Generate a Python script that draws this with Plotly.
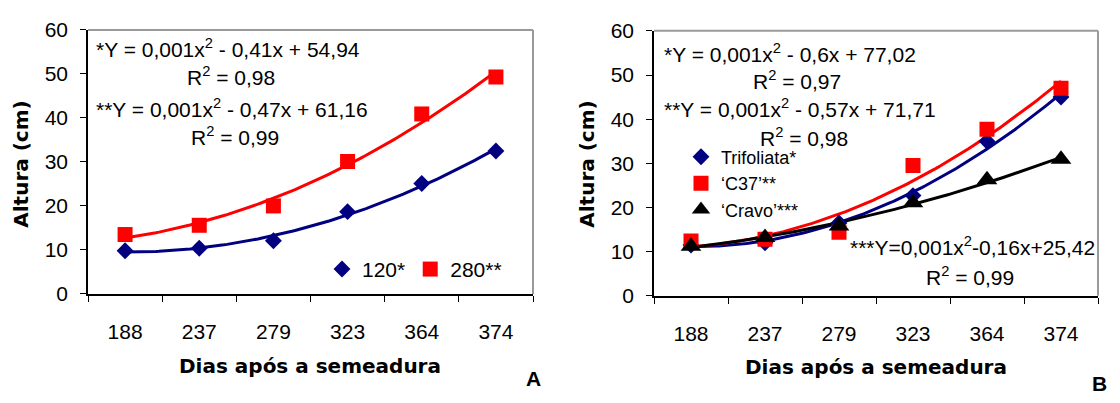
import numpy as np
import plotly.graph_objects as go

W, H = 1120, 403

days = ["188", "237", "279", "323", "364", "374"]

# Panel A
a_120 = [9.8, 10.4, 12.1, 18.7, 25.1, 32.5]
a_280 = [13.5, 15.6, 20.0, 30.1, 40.9, 49.3]

# Panel B
b_trifoliata = [11.5, 12.0, 16.5, 22.7, 35.0, 45.0]
b_c37 = [12.4, 12.8, 14.4, 29.5, 37.7, 47.0]
b_cravo = [11.2, 13.2, 15.8, 21.1, 26.3, 30.9]

y_ticks = [0, 10, 20, 30, 40, 50, 60]

NAVY = "#000080"
RED = "#FF0000"
BLACK = "#000000"
FONT = "Liberation Sans, Arial, sans-serif"
TITLE_FONT = "DejaVu Sans, Liberation Sans, Arial, sans-serif"

idx = np.arange(len(days))
dense = np.linspace(0, len(days) - 1, 121)


def trend(values):
    coef = np.polyfit(idx, values, 2)
    return np.polyval(coef, dense)


fig = go.Figure()

# ---- Panel A ----
for vals, col in [(a_120, NAVY), (a_280, RED)]:
    fig.add_trace(go.Scatter(x=dense, y=trend(vals), mode="lines",
                             line=dict(color=col, width=3), showlegend=False,
                             hoverinfo="skip", xaxis="x", yaxis="y"))
fig.add_trace(go.Scatter(x=idx, y=a_120, mode="markers", name="120*",
                         marker=dict(symbol="diamond", size=13, color=NAVY),
                         xaxis="x", yaxis="y", legend="legend"))
fig.add_trace(go.Scatter(x=idx, y=a_280, mode="markers", name="280**",
                         marker=dict(symbol="square", size=15, color=RED),
                         xaxis="x", yaxis="y", legend="legend"))

# ---- Panel B ----
for vals, col in [(b_trifoliata, NAVY), (b_c37, RED), (b_cravo, BLACK)]:
    fig.add_trace(go.Scatter(x=dense, y=trend(vals), mode="lines",
                             line=dict(color=col, width=3), showlegend=False,
                             hoverinfo="skip", xaxis="x2", yaxis="y2"))
fig.add_trace(go.Scatter(x=idx, y=b_trifoliata, mode="markers", name="Trifoliata*",
                         marker=dict(symbol="diamond", size=13, color=NAVY),
                         xaxis="x2", yaxis="y2", legend="legend2"))
fig.add_trace(go.Scatter(x=idx, y=b_c37, mode="markers", name="\u2018C37\u2019**",
                         marker=dict(symbol="square", size=15, color=RED),
                         xaxis="x2", yaxis="y2", legend="legend2"))
fig.add_trace(go.Scatter(x=idx, y=b_cravo, mode="markers", name="\u2018Cravo\u2019***",
                         marker=dict(symbol="triangle-up", size=18, color=BLACK),
                         xaxis="x2", yaxis="y2", legend="legend2"))


def xaxis_cfg(domain):
    return dict(domain=domain, range=[-0.5, len(days) - 0.5],
                tickmode="array", tickvals=list(idx), ticktext=days,
                ticks="outside", ticklen=6, tickcolor="rgba(0,0,0,0)",
                ticklabelstandoff=12,
                minor=dict(tickmode="array",
                           tickvals=list(np.arange(-0.5, len(days), 1.0)),
                           ticks="outside", ticklen=6, tickcolor=BLACK, tickwidth=1,
                           showgrid=False),
                showline=True, linecolor=BLACK, linewidth=1.5,
                showgrid=False, zeroline=False,
                tickfont=dict(family=FONT, size=21, color=BLACK), fixedrange=True)


def yaxis_cfg(domain, anchor):
    return dict(domain=domain, range=[0, 60], tickmode="array", tickvals=y_ticks,
                ticks="outside", ticklen=6, tickcolor=BLACK, tickwidth=1,
                ticklabelstandoff=8, anchor=anchor,
                showline=True, linecolor=BLACK, linewidth=1.5,
                showgrid=False, zeroline=False,
                tickfont=dict(family=FONT, size=21, color=BLACK), fixedrange=True)


def px_x(p):
    return p / W


def px_y(p):
    return 1 - p / H


ann = []


def txt(x, y, s, xanchor="left", size=21, bold=False, family=FONT, angle=0):
    ann.append(dict(x=px_x(x), y=px_y(y), xref="paper", yref="paper", text=s,
                    showarrow=False, xanchor=xanchor, yanchor="middle",
                    textangle=angle,
                    font=dict(family=family, size=size, color=BLACK,
                              weight="bold" if bold else "normal")))


# Panel A equations
txt(94, 38, "*Y = 0,001x<sup>2</sup> - 0,41x + 54,94")
txt(231, 68, "R<sup>2</sup> = 0,98", "center")
txt(94, 102, "**Y = 0,001x<sup>2</sup> - 0,47x + 61,16")
txt(235, 132, "R<sup>2</sup> = 0,99", "center")
# Panel B equations
txt(662, 43, "*Y = 0,001x<sup>2</sup> - 0,6x + 77,02")
txt(797, 72, "R<sup>2</sup> = 0,97", "center")
txt(662, 102, "**Y = 0,001x<sup>2</sup> - 0,57x + 71,71")
txt(804, 133, "R<sup>2</sup> = 0,98", "center")
txt(1097, 248, "***Y=0,001x<sup>2</sup>-0,16x+25,42", "right")
txt(970, 280, "R<sup>2</sup> = 0,99", "center")

# Axis titles
txt(310, 375, "Dias após a semeadura", "center", size=20, bold=True, family=TITLE_FONT)
txt(876, 376, "Dias após a semeadura", "center", size=20, bold=True, family=TITLE_FONT)
txt(21, 162, "Altura (cm)", "center", size=20, bold=True, family=TITLE_FONT, angle=-90)
txt(587, 162, "Altura (cm)", "center", size=20, bold=True, family=TITLE_FONT, angle=-90)
# Panel letters
txt(533, 389, "A", "center", bold=True)
txt(1099, 394, "B", "center", bold=True)

# Gray frame (top and right edges of the plot areas)
shapes = []
for xr, yr in [("x", "y"), ("x2", "y2")]:
    shapes.append(dict(type="line", xref=f"{xr} domain", yref=f"{yr} domain",
                       x0=0, x1=1, y0=1, y1=1, line=dict(color="#9a9a9a", width=2)))
    shapes.append(dict(type="line", xref=f"{xr} domain", yref=f"{yr} domain",
                       x0=1, x1=1, y0=0, y1=1, line=dict(color="#9a9a9a", width=2)))

fig.update_layout(
    width=W, height=H, margin=dict(l=0, r=0, t=0, b=0),
    paper_bgcolor="white", plot_bgcolor="white",
    xaxis=xaxis_cfg([88 / W, 533 / W]),
    yaxis=yaxis_cfg([1 - 299 / H, 1 - 19 / H], "x"),
    xaxis2=dict(**xaxis_cfg([654 / W, 1098 / W]), anchor="y2"),
    yaxis2=yaxis_cfg([1 - 301 / H, 1 - 20 / H], "x2"),
    legend=dict(orientation="h", x=px_x(322), y=px_y(273), xanchor="left",
                yanchor="middle", bgcolor="rgba(0,0,0,0)",
                font=dict(family=FONT, size=21, color=BLACK), itemsizing="trace",
                tracegroupgap=0),
    legend2=dict(orientation="v", x=px_x(681), y=px_y(182), xanchor="left",
                 yanchor="middle", bgcolor="rgba(0,0,0,0)",
                 font=dict(family=FONT, size=18, color=BLACK), itemsizing="trace",
                 tracegroupgap=0),
    annotations=ann, shapes=shapes, showlegend=True,
)

fig.write_html("out.html")
